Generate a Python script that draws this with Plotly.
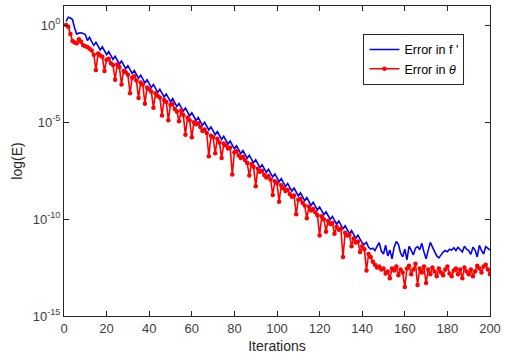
import plotly.graph_objects as go

iterations = list(range(1, 201))

# log10 of the error
blue_log10 = [
    0.20, 0.42, 0.38, 0.30, -0.15, -0.45, -0.40, -0.38, -0.42, -0.47,
    -0.78, -0.62, -0.84, -1.03, -0.87, -1.08, -1.27, -1.11, -1.32, -1.51,
    -1.35, -1.56, -1.76, -1.60, -1.81, -2.00, -1.84, -2.05, -2.24, -2.08,
    -2.29, -2.48, -2.33, -2.54, -2.73, -2.57, -2.78, -2.97, -2.81, -3.02,
    -3.21, -3.05, -3.27, -3.46, -3.30, -3.51, -3.70, -3.54, -3.75, -3.94,
    -3.78, -3.99, -4.19, -4.03, -4.24, -4.43, -4.27, -4.48, -4.67, -4.51,
    -4.72, -4.91, -4.76, -4.97, -5.16, -5.00, -5.21, -5.40, -5.24, -5.45,
    -5.64, -5.48, -5.70, -5.89, -5.73, -5.94, -6.13, -5.97, -6.18, -6.37,
    -6.21, -6.42, -6.62, -6.46, -6.67, -6.86, -6.70, -6.91, -7.10, -6.94,
    -7.15, -7.34, -7.19, -7.40, -7.59, -7.43, -7.64, -7.83, -7.67, -7.88,
    -8.07, -7.91, -8.13, -8.32, -8.16, -8.37, -8.56, -8.40, -8.61, -8.80,
    -8.64, -8.85, -9.05, -8.89, -9.10, -9.29, -9.13, -9.34, -9.53, -9.37,
    -9.58, -9.77, -9.62, -9.83, -10.02, -9.86, -10.07, -10.26, -10.10, -10.31,
    -10.50, -10.34, -10.56, -10.75, -10.59, -10.80, -10.99, -10.83, -11.04, -11.23,
    -11.30, -11.20, -11.45, -11.55, -11.50, -11.62, -11.40, -11.22, -11.65, -11.80,
    -11.35, -11.90, -11.60, -12.05, -11.45, -11.15, -11.30, -11.75, -11.95, -11.55,
    -12.10, -11.40, -11.60, -11.85, -11.50, -11.42, -11.58, -11.25, -11.70, -12.05,
    -11.60, -11.20, -11.45, -11.65, -11.90, -12.00, -11.85, -11.70, -11.62, -11.68,
    -11.55, -11.60, -11.48, -11.62, -11.45, -11.58, -11.70, -11.40, -11.55, -11.62,
    -11.82, -11.45, -11.60, -11.95, -11.35, -11.62, -11.80, -11.42, -11.50, -11.60,
]

red_log10 = [
    0.02, -0.07, -0.45, -0.80, -0.88, -0.92, -0.72, -0.85, -1.02, -1.08,
    -1.12, -1.20, -1.30, -1.52, -2.30, -1.45, -1.55, -1.62, -2.35, -1.78,
    -1.72, -1.95, -2.05, -2.80, -2.02, -2.15, -3.05, -2.35, -2.42, -2.55,
    -3.50, -2.70, -2.62, -2.85, -3.75, -2.95, -3.05, -4.05, -3.20, -3.30,
    -3.42, -4.25, -3.50, -3.65, -3.72, -4.65, -3.85, -3.95, -4.90, -4.10,
    -4.05, -4.32, -4.45, -4.95, -4.40, -4.62, -5.65, -4.75, -4.90, -5.78,
    -5.00, -5.10, -5.05, -5.25, -5.45, -5.38, -5.55, -6.75, -5.70, -5.78,
    -6.60, -5.85, -6.05, -6.85, -6.10, -6.20, -6.35, -6.30, -7.70, -6.55,
    -6.50, -6.72, -6.85, -6.78, -6.95, -7.10, -7.75, -7.15, -7.30, -8.30,
    -7.40, -7.55, -7.50, -7.72, -7.85, -7.78, -7.95, -8.75, -8.05, -8.15,
    -9.10, -8.25, -8.40, -8.55, -8.48, -8.70, -8.85, -8.78, -9.75, -9.00,
    -8.95, -9.15, -9.30, -9.95, -9.35, -9.55, -9.48, -9.65, -9.80, -10.85,
    -9.85, -10.00, -10.65, -10.10, -10.25, -10.20, -10.75, -10.40, -10.55, -10.50,
    -11.95, -10.70, -10.85, -10.80, -11.40, -11.00, -11.20, -11.15, -11.70, -11.40,
    -11.55, -12.65, -11.80, -11.95, -12.20, -12.35, -12.50, -12.45, -12.60, -12.55,
    -12.80, -12.70, -13.05, -12.55, -12.65, -12.45, -12.90, -12.60, -12.75, -13.50,
    -12.55, -12.40, -12.85, -12.60, -12.30, -13.40, -12.55, -12.75, -12.45, -13.30,
    -12.60, -12.85, -12.50, -12.70, -12.95, -12.55, -12.75, -12.90, -12.60, -12.45,
    -12.80, -12.95, -12.65, -12.55, -12.85, -12.60, -13.05, -12.50, -12.70, -12.85,
    -12.60, -12.95, -12.70, -12.40, -12.55, -12.75, -12.45, -12.35, -12.60, -12.85,
]

x_ticks = [0, 20, 40, 60, 80, 100, 120, 140, 160, 180, 200]
y_tickvals = [1e-15, 1e-10, 1e-5, 1e0]
y_ticktext = ["10<sup>-15</sup>", "10<sup>-10</sup>", "10<sup>-5</sup>", "10<sup>0</sup>"]

blue_vals = [10 ** v for v in blue_log10]
red_vals = [10 ** v for v in red_log10]

fig = go.Figure()
fig.add_trace(go.Scatter(
    x=iterations, y=blue_vals, mode="lines", name="Error in f '",
    line=dict(color="#0000FF", width=1.6),
))
fig.add_trace(go.Scatter(
    x=iterations, y=red_vals, mode="lines+markers", name="Error in <i>θ</i>",
    line=dict(color="#FF0000", width=1.6),
    marker=dict(color="#FF0000", size=4.5),
))

axis_common = dict(
    showline=True, linecolor="#262626", linewidth=1, mirror="ticks",
    ticks="inside", ticklen=5, tickcolor="#262626", showgrid=False, zeroline=False,
    ticklabeloverflow="allow",
    tickfont=dict(family="Liberation Sans, Arial, sans-serif", size=13, color="#404040"),
)

fig.update_layout(
    width=506, height=358,
    margin=dict(l=64, r=10, t=5, b=42),
    paper_bgcolor="white", plot_bgcolor="white",
    font=dict(family="Liberation Sans, Arial, sans-serif", color="#262626"),
    xaxis=dict(range=[0, 200], tickvals=x_ticks,
               title=dict(text="Iterations", font=dict(size=14, color="#262626"), standoff=6),
               **axis_common),
    yaxis=dict(type="log", range=[-15, 1], tickvals=y_tickvals, ticktext=y_ticktext,
               title=dict(text="log(E)", font=dict(size=14, color="#262626"), standoff=6),
               **axis_common),
    legend=dict(x=0.703, y=0.91, xanchor="left", yanchor="top",
                bgcolor="white", bordercolor="#262626", borderwidth=1,
                font=dict(size=12.5, color="black"), tracegroupgap=0,
                itemwidth=30),
    showlegend=True,
)

fig.write_html("out.html")
